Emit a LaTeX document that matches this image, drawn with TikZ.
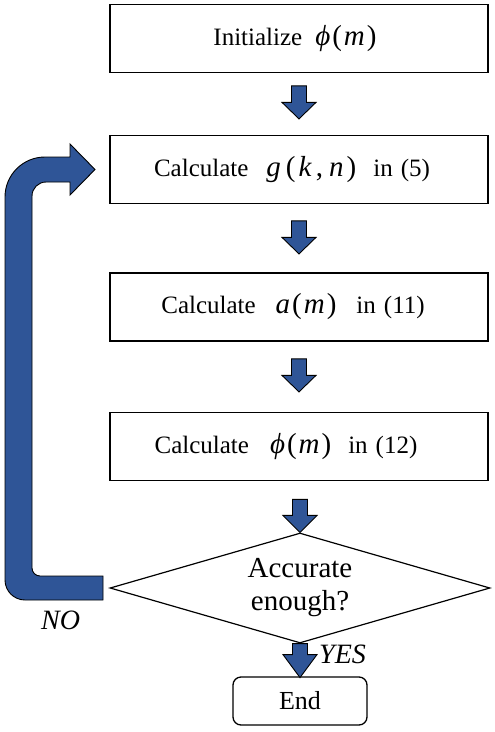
\documentclass[tikz,border=0pt]{standalone}
\usepackage{fontspec}
\setmainfont{Liberation Serif}
\usetikzlibrary{shapes.geometric,calc}
\definecolor{arrblue}{RGB}{47,85,151}
\newcommand\mfont{\fontsize{29}{29}\selectfont}
\begin{document}
\begin{tikzpicture}[x=1pt,y=-1pt,
  box/.style={draw,line width=1.8pt,minimum width=378pt,minimum height=68pt,inner sep=0pt,font=\fontsize{25}{29}\selectfont},
  barrow/.style={fill=arrblue,draw=black,line width=0.9pt,line join=miter},
  pics/downarr/.style 2 args={code={\filldraw[barrow] (-7.5,0) -- (7.5,0) -- (7.5,#1-#2) -- (17,#1-#2) -- (0,#1) -- (-17,#1-#2) -- (-7.5,#1-#2) -- cycle;}},
  lbl/.style={font=\fontsize{28}{32}\selectfont\itshape,inner sep=0pt}]
\useasboundingbox (0,0) rectangle (495,732);
\node[box] (b1) at (299,38.5) {Initialize\hspace{13pt}{\mfont\textit{ϕ}\hspace{2pt}(\hspace{2pt}\textit{m}\hspace{2pt})}\hspace*{8pt}};
\node[box] (b2) at (299,169.5) {Calculate\hspace{18pt}{\mfont\textit{g}\hspace{5pt}(\hspace{3pt}\textit{k}\hspace{4pt},\hspace{6pt}\textit{n}\hspace{3pt})}\hspace{17pt}in\hspace{8pt}(5)\hspace*{14pt}};
\node[box] (b3) at (299,307) {Calculate\hspace{20pt}{\mfont\textit{a}\hspace{2pt}(\hspace{2pt}\textit{m}\hspace{2pt})}\hspace{20pt}in\hspace{8pt}(11)\hspace*{12pt}};
\node[box] (b4) at (299,446.5) {Calculate\hspace{21pt}{\mfont\textit{ϕ}\hspace{2pt}(\hspace{2pt}\textit{m}\hspace{2pt})}\hspace{17pt}in\hspace{8pt}(12)\hspace*{26pt}};
\node[draw,diamond,shape aspect=3.45,minimum width=380pt,minimum height=110pt,inner sep=0pt,line width=1.2pt,align=center,font=\fontsize{29}{33}\selectfont] (dia) at (300,588) {Accurate\\enough?};
\node[draw,rounded corners=8pt,line width=1.3pt,minimum width=134pt,minimum height=48pt,font=\fontsize{26}{30}\selectfont] (end) at (300,701) {End};
\pic at ($(b1.south)+(0,12.5)$) {downarr={33}{16.5}};
\pic at ($(b2.south)+(0,16.5)$) {downarr={33}{16.5}};
\pic at ($(b3.south)+(0,17)$) {downarr={33}{16.5}};
\pic at ($(dia.north)+(0,-33)$) {downarr={33}{17}};
\pic at (dia.south) {downarr={34}{23}};
\filldraw[barrow] (103,600) -- (25,600) arc[start angle=90,end angle=180,radius=20] -- (5,197) arc[start angle=180,end angle=270,radius=40] -- (70,157) -- (70,144) -- (95,169.5) -- (70,195) -- (70,182) -- (46,182) arc[start angle=270,end angle=180,radius=14] -- (32,568) arc[start angle=180,end angle=90,radius=8] -- (103,576) -- cycle;
\node[lbl,anchor=base west] (yes) at (319,663) {YES};
\node[lbl,anchor=base west] (no) at (41,629) {NO};
\end{tikzpicture}
\end{document}
